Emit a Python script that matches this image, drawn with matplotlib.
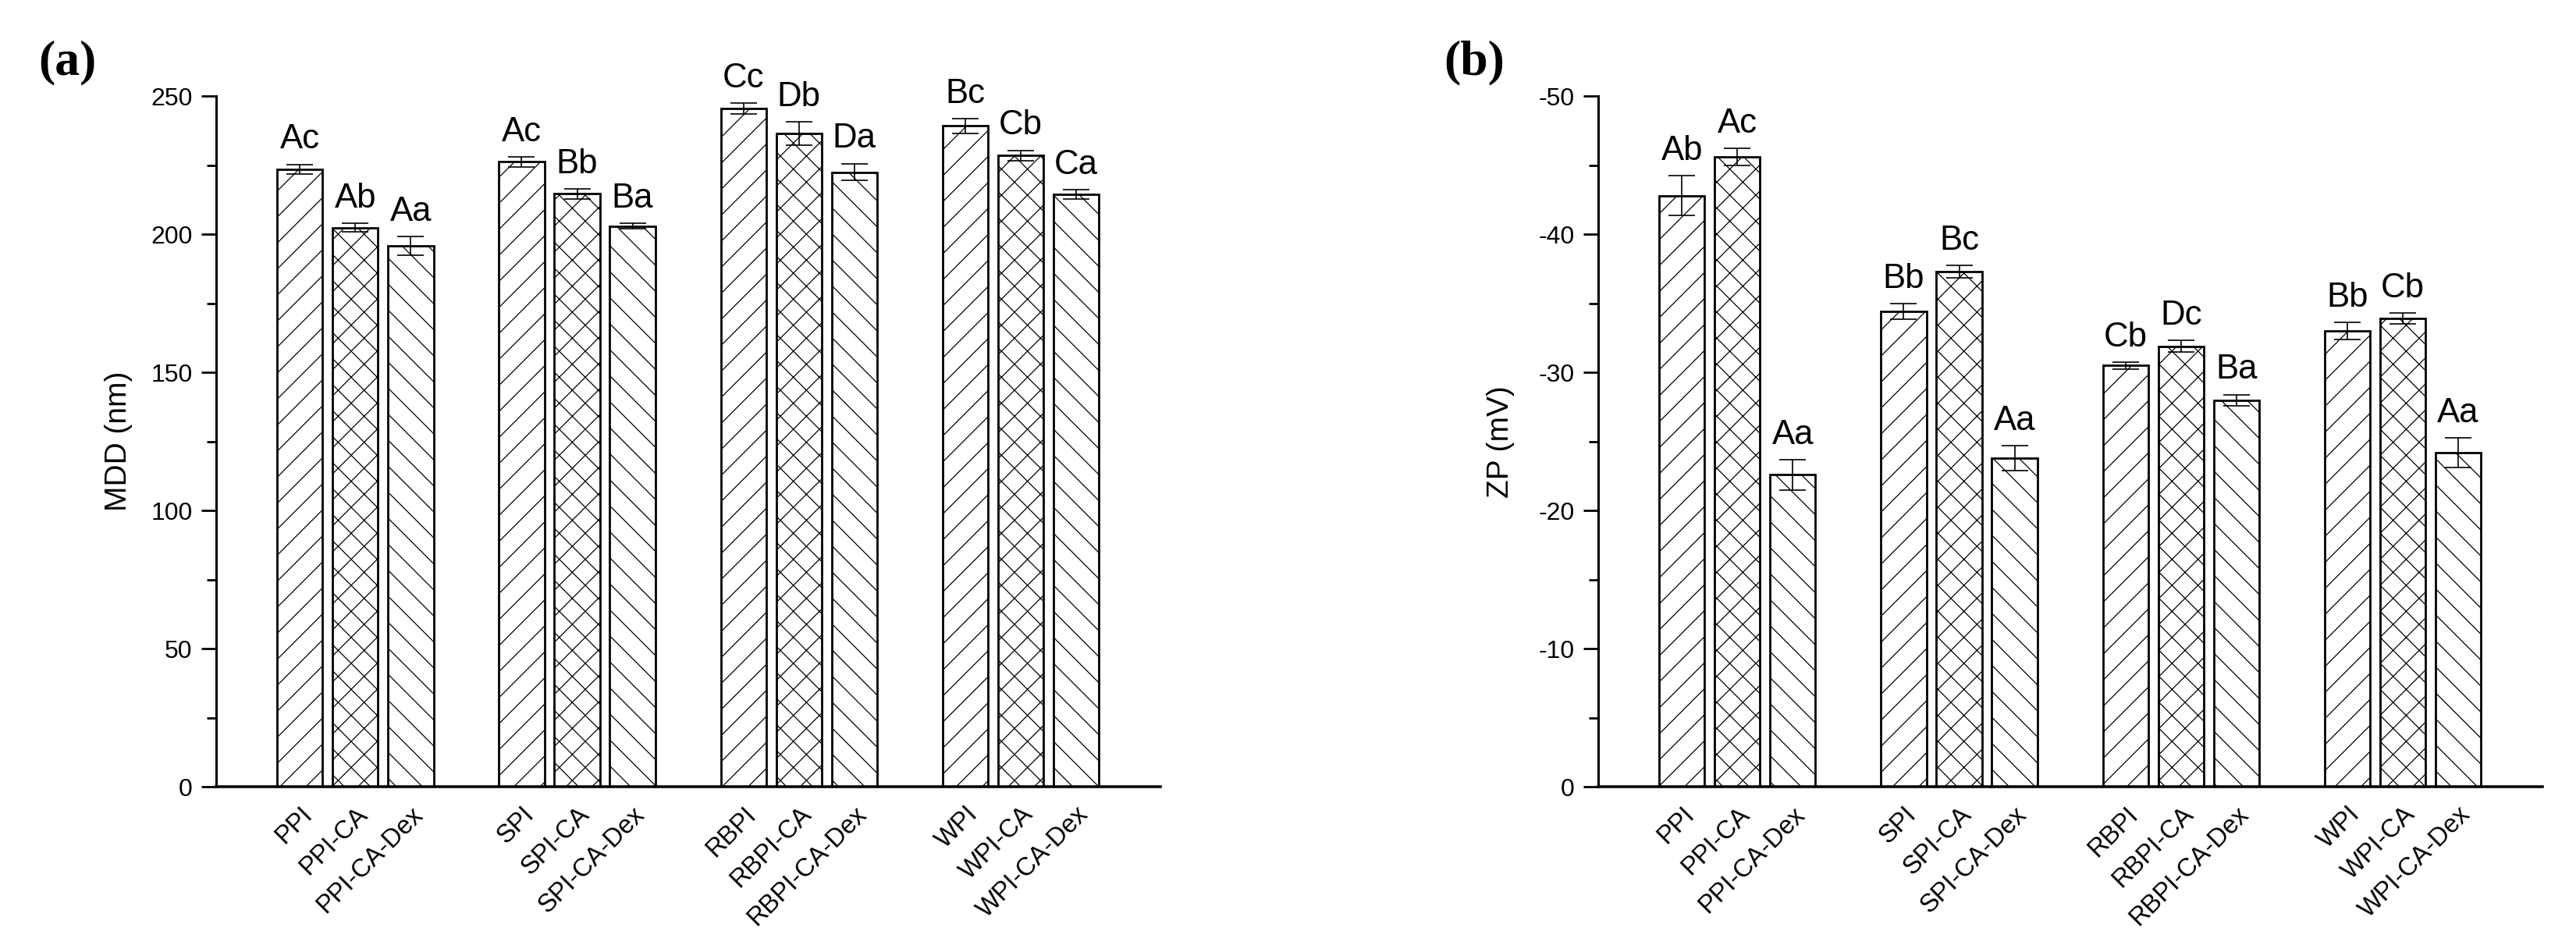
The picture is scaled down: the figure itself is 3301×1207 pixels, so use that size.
import numpy as np
import matplotlib
matplotlib.use("Agg")
import matplotlib.pyplot as plt
from matplotlib.ticker import MultipleLocator
from matplotlib.transforms import ScaledTranslation

# === Data ===
samples = ["PPI", "PPI-CA", "PPI-CA-Dex",
           "SPI", "SPI-CA", "SPI-CA-Dex",
           "RBPI", "RBPI-CA", "RBPI-CA-Dex",
           "WPI", "WPI-CA", "WPI-CA-Dex"]

mdd = [223.6, 202.4, 195.8, 226.2, 214.6, 202.9, 245.5, 236.4, 222.5, 239.2, 228.5, 214.4]
mdd_err = [1.7, 1.6, 3.5, 1.8, 1.75, 1.0, 2.1, 4.2, 3.1, 2.7, 1.9, 1.7]
mdd_sig = ["Ac", "Ab", "Aa", "Ac", "Bb", "Ba", "Cc", "Db", "Da", "Bc", "Cb", "Ca"]

zp = [-42.8, -45.6, -22.6, -34.4, -37.3, -23.8, -30.5, -31.9, -28.0, -33.0, -33.9, -24.2]
zp_err = [1.46, 0.63, 1.1, 0.57, 0.45, 0.89, 0.26, 0.42, 0.4, 0.64, 0.41, 1.08]
zp_sig = ["Ab", "Ac", "Aa", "Bb", "Bc", "Aa", "Cb", "Dc", "Ba", "Bb", "Cb", "Aa"]

hatches = ["/", "x", "\\"]

# === Style ===
plt.rcParams["font.family"] = ["Liberation Sans", "DejaVu Sans"]
plt.rcParams["axes.unicode_minus"] = False
plt.rcParams["hatch.linewidth"] = 0.9

fig = plt.figure(figsize=(33.01, 12.07), dpi=100)
ax_a = fig.add_axes([0.0839, 0.1645, 0.3666, 0.7335])
ax_b = fig.add_axes([0.6204, 0.1645, 0.3666, 0.7335])

# bar centres: 4 groups of 3, one empty slot between groups
x = np.array([g * 4 + i for g in range(4) for i in range(3)], dtype=float)


def draw_panel(ax, vals, errs, sig, ylabel, sign):
    for k in range(len(vals)):
        ax.bar(x[k], vals[k], width=0.82, color="white", edgecolor="black",
               linewidth=2.0, hatch=hatches[k % 3], zorder=2)
    ax.errorbar(x, vals, yerr=errs, fmt="none", ecolor="black",
                elinewidth=1.2, capsize=12, capthick=1.2, zorder=3)
    for k in range(len(vals)):
        top = vals[k] + sign * errs[k]
        ax.annotate(sig[k], (x[k], top), xytext=(0, 8), textcoords="offset points",
                    ha="center", va="bottom", fontsize=31.5)

    ax.set_xlim(-1.51, 15.52)
    ax.set_xticks(x)
    ax.set_xticklabels(samples, rotation=45, ha="right", va="top",
                       rotation_mode="anchor", fontsize=23.5)
    shift = ScaledTranslation(0.13, 0, fig.dpi_scale_trans)
    for lab in ax.get_xticklabels():
        lab.set_transform(lab.get_transform() + shift)
    ax.tick_params(axis="x", length=0, pad=14)

    ax.tick_params(axis="y", which="major", direction="out", length=14, width=2,
                   labelsize=23, pad=8)
    ax.tick_params(axis="y", which="minor", direction="out", length=8.5, width=2)

    for s in ["top", "right"]:
        ax.spines[s].set_visible(False)
    ax.spines["left"].set_linewidth(2.2)
    ax.spines["bottom"].set_linewidth(2.6)

    ax.set_ylabel(ylabel, fontsize=28)
    ax.yaxis.set_label_coords(-0.088, 0.5)


draw_panel(ax_a, mdd, mdd_err, mdd_sig, "MDD (nm)", 1)
ax_a.set_ylim(0, 250)
ax_a.yaxis.set_major_locator(MultipleLocator(50))
ax_a.yaxis.set_minor_locator(MultipleLocator(25))

draw_panel(ax_b, zp, zp_err, zp_sig, "ZP (mV)", -1)
ax_b.set_ylim(0, -50)
ax_b.yaxis.set_major_locator(MultipleLocator(10))
ax_b.yaxis.set_minor_locator(MultipleLocator(5))

# panel letters
fig.text(49 / 3301, 1 - 80 / 1207, "(a)", fontsize=46, fontweight="bold",
         family="Liberation Serif", ha="left", va="center")
fig.text(1850 / 3301, 1 - 80 / 1207, "(b)", fontsize=46, fontweight="bold",
         family="Liberation Serif", ha="left", va="center")

fig.savefig("out.png", dpi=100, facecolor="white")
